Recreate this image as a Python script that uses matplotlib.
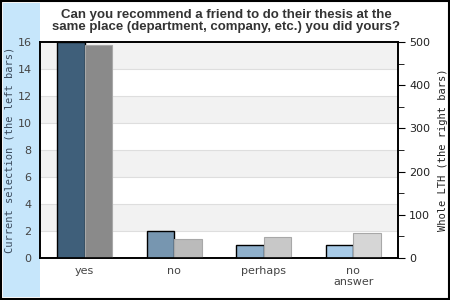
import numpy as np
import matplotlib
matplotlib.use("Agg")
import matplotlib.pyplot as plt
from matplotlib.patches import Rectangle
from matplotlib.ticker import MultipleLocator

# Data
categories = ['yes', 'no', 'perhaps', 'no\nanswer']
current = [16, 2, 1, 1]          # left bars, left axis
whole_lth = [493, 45, 49, 58]    # right bars, right axis
left_colors = ['#3f5f7a', '#7796b0', '#8fb0cc', '#a8cbe8']
right_colors = ['#8a8a8a', '#bbbbbb', '#c8c8c8', '#d6d6d6']
title = ('Can you recommend a friend to do their thesis at the\n'
         'same place (department, company, etc.) you did yours?')

fig = plt.figure(figsize=(4.5, 3), dpi=100)
W, H = 450, 300

# light blue band on the left and outer frame
fig.patches.append(Rectangle((3 / W, 3 / H), 37 / W, 294 / H, transform=fig.transFigure,
                             facecolor='#c6e6fb', edgecolor='none', zorder=-10))
fig.patches.append(Rectangle((0.5 / W, 1 / H), 448 / W, 298.5 / H, transform=fig.transFigure,
                             facecolor='none', edgecolor='black', linewidth=1.5, zorder=5))

ax = fig.add_axes([40 / W, 42 / H, 358 / W, 216 / H])
ax2 = ax.twinx()
ax.set_zorder(1)
ax2.set_zorder(2)
ax2.patch.set_visible(False)

x = np.arange(len(categories))
w = 0.305

# alternating bands and grid lines
for lo in range(0, 16, 2):
    if (lo // 2) % 2 == 1:
        ax.axhspan(lo, lo + 2, color='#f2f2f2', zorder=0, lw=0)
    ax.axhline(lo, color='#dedede', lw=0.8, zorder=0.5)

ax.bar(x - w / 2, current, width=w, color=left_colors, edgecolor='black', linewidth=1, zorder=3)
ax2.bar(x + w / 2, whole_lth, width=w, color=right_colors, edgecolor='#a8a8a8', linewidth=0.8, zorder=2)

ax.set_xlim(-0.5, len(categories) - 0.5)
ax.set_ylim(0, 16)
ax2.set_ylim(0, 500)
ax.yaxis.set_major_locator(MultipleLocator(2))
ax2.yaxis.set_major_locator(MultipleLocator(100))
ax2.yaxis.set_minor_locator(MultipleLocator(50))

ax.set_xticks(x)
ax.set_xticklabels(categories, fontsize=8, color='#444444', family='DejaVu Sans', linespacing=1.1)
ax.tick_params(axis='x', length=0, pad=6)
ax.tick_params(axis='y', length=0, pad=6, labelsize=8, labelcolor='#444444')
ax2.tick_params(axis='y', which='major', length=5, pad=3, labelsize=8, labelcolor='#222222')
ax2.tick_params(axis='y', which='minor', length=4)

for a in (ax, ax2):
    for s in a.spines.values():
        s.set_color('black')
        s.set_linewidth(1.2)

ax.set_ylabel('Current selection (the left bars)', family='DejaVu Sans Mono', fontsize=7.5,
              color='#3a4a5c')
ax.yaxis.set_label_coords(-25 / 358, 0.5)
ax2.set_ylabel('Whole LTH (the right bars)', family='DejaVu Sans Mono', fontsize=7.5, color='#222222')
ax2.yaxis.set_label_coords(1 + 40 / 358, 0.5)

fig.text(226 / W, 1 - 21 / H, title, ha='center', va='center', fontsize=9.5, fontweight='bold',
         family='Liberation Sans', color='#333333', linespacing=1.1)

fig.savefig('out.png', dpi=100)
